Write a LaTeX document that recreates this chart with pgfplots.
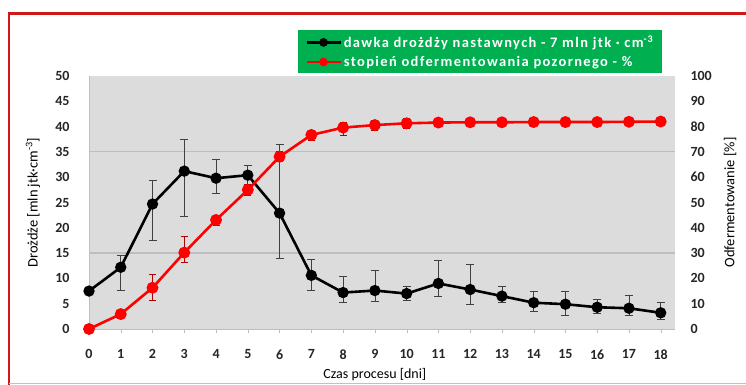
\documentclass[border=0pt]{standalone}
\usepackage{fontspec}
\setmainfont{Carlito}
\newfontfamily\legfont[LetterSpace=9.5]{Carlito}
\usepackage{pgfplots}
\usepackage{pgfplotstable}
\pgfplotsset{compat=1.18}
\definecolor{bg}{RGB}{220,220,220}
\definecolor{legg}{RGB}{0,176,80}
\definecolor{frame}{RGB}{208,24,24}
\definecolor{gridc}{RGB}{190,190,190}

\pgfplotstableread{
x y ep em
0 7.5 0 0
1 12.2 2.4 4.5
2 24.7 4.7 7.1
3 31.2 6.2 9.0
4 29.8 3.8 3.0
5 30.4 1.9 1.9
6 22.9 13.5 8.9
7 10.6 3.2 2.9
8 7.2 3.3 2.0
9 7.6 3.9 2.2
10 7.0 1.4 1.3
11 9.0 4.6 2.5
12 7.8 5.0 2.9
13 6.5 2.0 1.3
14 5.2 2.2 1.8
15 4.9 2.5 2.3
16 4.3 1.6 1.2
17 4.1 2.6 1.5
18 3.2 2.0 1.3
}\yeast

\pgfplotstableread{
x y ep em
0 0 0 0
1 5.9 1.5 1.5
2 16.3 5.3 5.0
3 30.2 6.3 4.0
4 43.1 2.0 2.0
5 55.0 2.0 2.0
6 68.1 2.0 2.0
7 76.7 2.0 2.0
8 79.6 2.0 3.0
9 80.6 2.0 2.0
10 81.3 2.0 2.0
11 81.6 1.5 1.5
12 81.7 1.5 1.5
13 81.7 1.5 1.5
14 81.8 1.5 1.5
15 81.8 1.5 1.5
16 81.8 1.5 1.5
17 81.9 1.5 1.5
18 82.0 1.5 1.5
}\ferm

\begin{document}
\begin{tikzpicture}[x=1pt,y=1pt]
\clip (0,0) rectangle (746,385);
\fill[white] (0,0) rectangle (746,385);
\draw[frame, line width=2.2pt] (9,-5) -- (9,371.5) -- (760,371.5);
\draw[frame!35, line width=0.8pt] (9,1.5) -- (760,1.5);

\begin{axis}[
  at={(89pt,56pt)}, anchor=south west,
  scale only axis, width=586pt, height=253pt,
  xmin=0, xmax=18.45, ymin=0, ymax=50,
  axis background/.style={fill=bg},
  axis x line*=bottom, axis y line*=left,
  axis line style={draw=gridc, line width=0.6pt},
  xtick={0,1,...,18}, ytick={0,5,...,50},
  tick align=outside, major tick length=4pt,
  xtick style={draw=gridc}, ytick style={draw=none},
  /pgf/number format/assume math mode=true,
  ticklabel style={font=\bfseries\fontsize{14}{16}\selectfont, text=black!85},
  xticklabel style={yshift=-13pt},
  yticklabel style={xshift=-12pt},
  extra y ticks={15,35}, extra y tick labels={},
  extra y tick style={grid=major, major grid style={draw=gridc, line width=1.2pt}, tick style={draw=none}},
  xlabel={Czas procesu [dni]},
  xlabel style={at={(axis description cs:0.4878,-0.18)}, anchor=center, font=\fontsize{14}{16}\selectfont},
  ylabel={Drożdże [mln jtk·cm\textsuperscript{-3}]},
  ylabel style={at={(axis description cs:-0.0956,0.5)}, anchor=center, rotate=0, font=\fontsize{14.5}{16}\selectfont},
  legend style={at={(axis description cs:0.3567,1.1818)}, anchor=north west,
    fill=legg, draw=none, text=white, font=\legfont\bfseries\fontsize{14.5}{18}\selectfont,
    inner xsep=7pt, inner ysep=3.5pt, row sep=3pt},
  legend image code/.code={
    \draw[#1, mark repeat=2, mark phase=2] plot coordinates {(0pt,0pt) (17pt,0pt) (34pt,0pt)};},
  legend image post style={mark size=3pt},
  legend cell align=left,
  clip=false,
]
\addplot[black, line width=2.6pt, mark=*, mark size=4.3pt,
  error bars/.cd, y dir=both, y explicit,
  error bar style={black!75, line width=0.7pt},
  error mark options={rotate=90, mark size=4pt, black!75, line width=0.7pt}]
  table[x=x, y=y, y error plus=ep, y error minus=em]{\yeast};
\addlegendentry{dawka drożdży nastawnych - 7 mln jtk · cm\textsuperscript{-3}}
\addlegendimage{red, line width=2.6pt, mark=*}
\addlegendentry{stopień odfermentowania pozornego - \%}
\end{axis}

\begin{axis}[
  at={(89pt,56pt)}, anchor=south west,
  scale only axis, width=586pt, height=253pt,
  xmin=0, xmax=18.45, ymin=0, ymax=100,
  axis x line=none, axis y line*=right,
  axis line style={draw=none},
  ytick={0,10,...,100}, ytick style={draw=none},
  /pgf/number format/assume math mode=true,
  ticklabel style={font=\bfseries\fontsize{14}{16}\selectfont, text=black!85},
  yticklabel style={xshift=12pt},
  ylabel={Odfermentowanie [\%]},
  ylabel style={at={(axis description cs:1.0939,0.5)}, anchor=center, rotate=0, font=\fontsize{14.5}{16}\selectfont},
  clip=false,
]
\addplot[red, line width=2.6pt, mark=*, mark size=4.6pt,
  error bars/.cd, y dir=both, y explicit,
  error bar style={red!70!black, line width=0.6pt},
  error mark options={rotate=90, mark size=3.5pt, red!70!black, line width=0.6pt}]
  table[x=x, y=y, y error plus=ep, y error minus=em]{\ferm};
\end{axis}
\end{tikzpicture}
\end{document}
